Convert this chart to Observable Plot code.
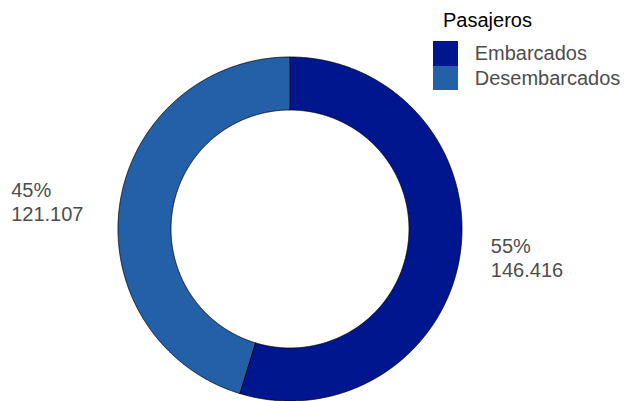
<!DOCTYPE html>
<html>
<head>
<meta charset="utf-8">
<script src="https://cdn.jsdelivr.net/npm/d3@7"></script>
<script src="https://cdn.jsdelivr.net/npm/@observablehq/plot@0.6"></script>
<style>
  body { margin: 0; background: #fff; font-family: "Liberation Sans", Arial, sans-serif; }
  #wrap { position: relative; width: 626px; height: 401px; overflow: hidden; }
  #legend { position: absolute; left: 433px; top: 8px; }
  #legend .title { font-size: 20px; color: #000; margin-left: 10px; height: 33px; line-height: 24px; }
  #legend .row { display: flex; align-items: center; height: 24.7px; }
  #legend .sw { width: 24.7px; height: 24.7px; }
  #legend .lab { font-size: 20px; color: #4d4d4d; margin-left: 17px; }
</style>
</head>
<body>
<div id="wrap"><div id="chart"></div><div id="legend"></div></div>
<script>
const legendTitle = "Pasajeros";
const categories = ["Embarcados", "Desembarcados"];
const values = [146416, 121107];
const colors = ["#00168f", "#2460a7"];

const total = d3.sum(values);
const fmt = d3.formatLocale({decimal: ",", thousands: ".", grouping: [3], currency: ["", ""]}).format(",d");

const Ro = 1, Ri = 119 / 172;
// ring slices as areas between outer and inner arcs
const pie = d3.pie().sort(null).value(d => d.value)(categories.map((c, i) => ({category: c, value: values[i]})));
const ring = [];
pie.forEach(p => {
  const n = Math.max(2, Math.ceil((p.endAngle - p.startAngle) / (Math.PI / 720)));
  for (let k = 0; k <= n; k++) {
    const a = p.startAngle + (p.endAngle - p.startAngle) * k / n;
    ring.push({category: p.data.category, x1: Ro * Math.sin(a), y1: Ro * Math.cos(a), x2: Ri * Math.sin(a), y2: Ri * Math.cos(a)});
  }
});
const labels = pie.map(p => {
  const a = (p.startAngle + p.endAngle) / 2;
  return {
    x: 1.41 * Math.sin(a), y: 1.10 * Math.cos(a),
    text: `${Math.round(p.data.value / total * 100)}%\n${fmt(p.data.value)}`
  };
});

const chart = Plot.plot({
  width: 626, height: 401, margin: 0,
  style: {fontFamily: "'Liberation Sans', Arial, sans-serif", background: "#fff"},
  x: {domain: [-290 / 172, 336 / 172], axis: null},
  y: {domain: [-172 / 172, 229 / 172], axis: null},
  color: {domain: categories, range: colors},
  marks: [
    Plot.area(ring, {x1: "x1", y1: "y1", x2: "x2", y2: "y2", z: "category", fill: "category", stroke: "black", strokeWidth: 0.8}),
    Plot.text(labels, {x: "x", y: "y", text: "text", textAnchor: "start", dx: -39.5, lineHeight: 1.17, fontSize: 20, fill: "#4d4d4d"})
  ]
});
document.getElementById("chart").appendChild(chart);

const lg = document.getElementById("legend");
lg.innerHTML = `<div class="title">${legendTitle}</div>` +
  categories.map((c, i) => `<div class="row"><div class="sw" style="background:${colors[i]}"></div><div class="lab">${c}</div></div>`).join("");
</script>
</body>
</html>
